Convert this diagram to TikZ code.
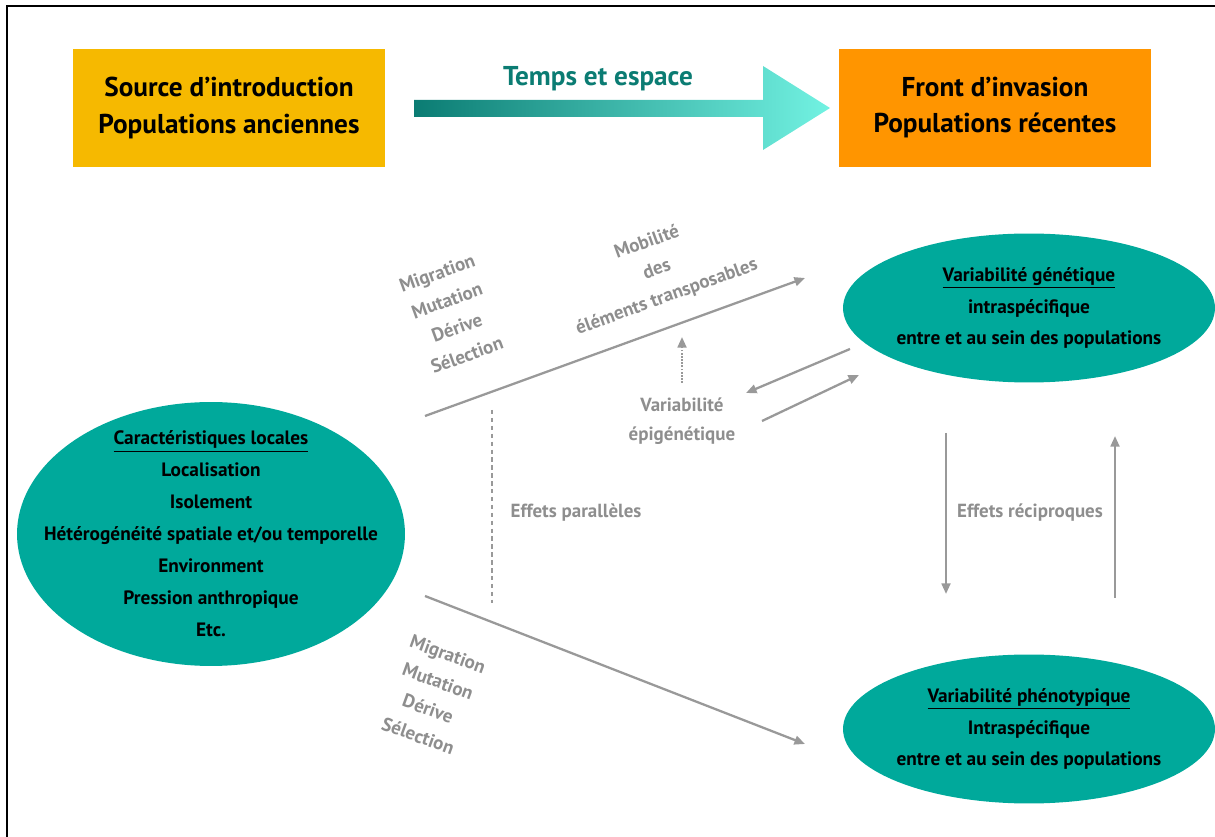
\documentclass[tikz,border=0pt]{standalone}
\usepackage{fontspec}
\setmainfont{PT Sans}
\usepackage{xcolor}
\definecolor{gold}{HTML}{F6B900}
\definecolor{amber}{HTML}{FF9500}
\definecolor{lagoon}{HTML}{00A99B}
\definecolor{deepteal}{HTML}{0B7C73}
\definecolor{aqua}{HTML}{72F2E2}
\definecolor{muted}{HTML}{999999}
\definecolor{labelgray}{HTML}{8E8E8E}
\usetikzlibrary{arrows.meta,shapes.geometric}

\begin{document}
\begin{tikzpicture}[x=0.02cm,y=-0.02cm,
  box/.style={rectangle,minimum width=6.24cm,minimum height=2.36cm,
              align=center,font=\fontsize{15.5}{20.5}\selectfont\bfseries},
  blob/.style={ellipse,fill=lagoon,inner sep=0pt},
  blobtxt/.style={align=center,font=\fontsize{11}{18.2}\selectfont\bfseries},
  lbl/.style={text=labelgray,align=center,font=\fontsize{10.8}{16.5}\selectfont\bfseries},
  arr/.style={-{Triangle[length=6pt,width=5pt]},color=muted,line width=1.3pt}]
  \useasboundingbox (0,0) rectangle (1215,837);
  \draw[line width=1.2pt] (7,6) rectangle (1240,860);
  \node[box,fill=gold]  (src)  at (229,108){Source d’introduction\\Populations anciennes};
  \node[box,fill=amber] (front)at (995,108){Front d’invasion\\Populations récentes};
  \shade[left color=deepteal,right color=aqua] (414,100) -- (763,100) -- (763,66) -- (830,108)
    -- (763,150) -- (763,117) -- (414,117) -- cycle;
  \node[font=\fontsize{15.5}{18}\selectfont\bfseries,text=deepteal] (span) at (598,79){Temps et espace};
  \node[blob,minimum width=7.76cm,minimum height=5.28cm] (loc) at (211,534){};
  \node[blobtxt] at (loc.center){\underline{Caractéristiques locales}\\Localisation\\Isolement\\
    Hétérogénéité spatiale et/ou temporelle\\Environment\\Pression anthropique\\Etc.};
  \node[blob,minimum width=7.44cm,minimum height=2.98cm] (gen) at (1029,308){};
  \node[blobtxt] at (gen.center){\underline{Variabilité génétique}\\intraspécifique\\entre et au sein des populations};
  \node[blob,minimum width=7.44cm,minimum height=2.98cm] (phen) at (1029,729){};
  \node[blobtxt] at (phen.center){\underline{Variabilité phénotypique}\\Intraspécifique\\entre et au sein des populations};
  \coordinate (u0) at (425,416); \coordinate (u1) at (805,278);
  \coordinate (d0) at (425,596); \coordinate (d1) at (805,744);
  \coordinate (p0) at (492,410); \coordinate (p1) at (492,603);
  \coordinate (e0) at (682,383); \coordinate (e1) at (682,337);
  \coordinate (g0) at (850,349); \coordinate (g1) at (746,393);
  \coordinate (g2) at (762,421); \coordinate (g3) at (859,375);
  \coordinate (r0) at (946,433); \coordinate (r1) at (946,594);
  \coordinate (r2) at (1115,598);\coordinate (r3) at (1115,436);
  \draw[arr](u0)--(u1);\draw[arr](d0)--(d1);
  \draw[muted,line width=1.3pt,dash pattern=on 2.5pt off 2pt](p0)--(p1);
  \draw[arr,dash pattern=on 1pt off 0.8pt](e0)--(e1);
  \draw[arr](g0)--(g1);\draw[arr](g2)--(g3);
  \draw[arr](r0)--(r1);\draw[arr](r2)--(r3);
  \node[lbl] (par) at (576,513){Effets parallèles};
  \node[lbl] (epi) at (682,421){Variabilité\\épigénétique};
  \node[lbl] (rec) at (1030,513){Effets réciproques};
  \node[lbl,rotate=20]  (up)   at (452,314){Migration\\Mutation\\Dérive\\Sélection};
  \node[lbl,rotate=20]  (te)   at (657,270){Mobilité\\des\\éléments transposables};
  \node[lbl,rotate=-20] (down) at (433,695){Migration\\Mutation\\Dérive\\Sélection};
\end{tikzpicture}
\end{document}
